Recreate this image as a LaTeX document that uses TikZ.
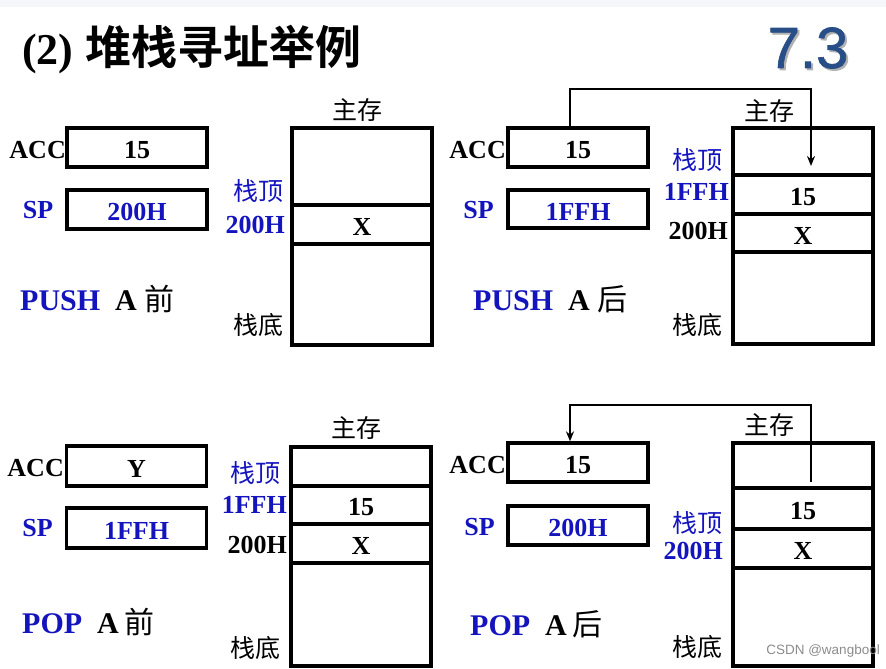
\documentclass[tikz,border=0pt]{standalone}
\usepackage{fontspec}
\setmainfont{Liberation Serif}
\newfontfamily\cjk{Noto Sans CJK SC}[BoldFont={Noto Sans CJK SC Bold}]
\newfontfamily\numsans{Liberation Sans}
\newfontfamily\secfont{Liberation Sans}[FakeBold=1.2]
\usetikzlibrary{arrows.meta}
\definecolor{lblue}{RGB}{20,20,190}
\definecolor{sectblue}{RGB}{40,78,135}
\definecolor{topgray}{RGB}{244,246,249}
\newcommand\lw[1]{\raisebox{-2.5pt}[\height][\depth]{#1}}
\begin{document}
\begin{tikzpicture}[x=1pt,y=-1pt,
  box/.style={draw,line width=3.3pt,rectangle,minimum width=140pt,inner sep=0pt,font=\fontsize{26}{26}\selectfont\bfseries},
  lab/.style={inner sep=0pt,font=\fontsize{26}{26}\selectfont\bfseries},
  bluelab/.style={lab,text=lblue},
  cjklab/.style={inner sep=0pt,font=\fontsize{25}{25}\selectfont\cjk},
  flow/.style={line width=2.6pt,-{Stealth[length=10pt,width=8pt]}},
  cmd/.style={inner sep=0pt,anchor=base west,font=\fontsize{30}{30}\selectfont\bfseries}
]
\path[use as bounding box] (0,0) rectangle (886,669);
\fill[topgray] (0,0) rectangle (886,7);

% title
\node[inner sep=0pt,anchor=base west,font=\fontsize{44}{44}\selectfont\bfseries] (title) at (22,65)
  {(2)\hspace{12pt}{\cjk\fontsize{46}{46}\selectfont 堆栈寻址举例}};
\node[inner sep=0pt,text=black!30,font=\fontsize{58}{58}\selectfont\secfont] (secsh) at (810,50) {7.3};
\node[inner sep=0pt,text=sectblue,font=\fontsize{58}{58}\selectfont\secfont] (sec) at (808,48) {7.3};

% ---------- Q1: PUSH A before ----------
\node[box,minimum height=39pt] (acc1) at (137,147.5) {\lw{15}};
\node[box,minimum height=39pt,text=lblue] (sp1) at (137,209.5) {\lw{200H}};
\node[lab,anchor=east] (acc1l) at (66,150) {ACC};
\node[bluelab] (sp1l) at (38,210.5) {SP};
\node[cmd] (cmd1) at (20,310) {{\color{lblue}PUSH}\hspace{15pt}A\hspace{8pt}{\cjk\mdseries 前}};
\node[cjklab] (main1) at (357,110) {主存};
\node[box,minimum height=77pt] (m1a) at (362,166.5) {};
\node[box,minimum height=39pt] (m1b) at (362,224.5) {\lw{X}};
\node[box,minimum height=101pt] (m1c) at (362,294.5) {};
\node[cjklab,anchor=east,text=lblue] (top1) at (284,191) {栈顶};
\node[bluelab,anchor=east] (a1) at (285,224.5) {200H};
\node[cjklab,anchor=east] (bot1) at (284,325) {栈底};

% ---------- Q2: PUSH A after ----------
\node[box,minimum height=39pt] (acc2) at (578,147.5) {\lw{15}};
\node[box,minimum height=38pt,text=lblue] (sp2) at (578,209) {\lw{1FFH}};
\node[lab,anchor=east] (acc2l) at (506,150) {ACC};
\node[bluelab] (sp2l) at (478.5,210) {SP};
\node[cmd] (cmd2) at (473,310) {{\color{lblue}PUSH}\hspace{15pt}A\hspace{8pt}{\cjk\mdseries 后}};
\node[cjklab] (main2) at (769,111) {主存};
\node[box,minimum height=47pt] (m2a) at (803,151.5) {};
\node[box,minimum height=39pt] (m2b) at (803,194.5) {\lw{15}};
\node[box,minimum height=38pt] (m2c) at (803,233) {\lw{X}};
\node[box,minimum height=92pt] (m2d) at (803,298) {};
\node[cjklab,anchor=east,text=lblue] (top2) at (723,160) {栈顶};
\node[bluelab,anchor=east] (a2a) at (729,192) {1FFH};
\node[lab,anchor=east] (a2b) at (728,231) {200H};
\node[cjklab,anchor=east] (bot2) at (723,325) {栈底};
\coordinate (q2c) at (811,89);
\coordinate (q2t) at (811,166);
\draw[flow] ([xshift=-8pt]acc2.north) |- (q2c) -- (q2t);

% ---------- Q3: POP A before ----------
\node[box,minimum height=40pt] (acc3) at (136.5,466) {\lw{Y}};
\node[box,minimum height=40pt,text=lblue] (sp3) at (136.5,528) {\lw{1FFH}};
\node[lab,anchor=east] (acc3l) at (64,468) {ACC};
\node[bluelab] (sp3l) at (37.5,528) {SP};
\node[cmd] (cmd3) at (22,633) {{\color{lblue}POP}\hspace{15pt}A\hspace{6pt}{\cjk\mdseries 前}};
\node[cjklab] (main3) at (356,428) {主存};
\node[box,minimum height=39pt] (m3a) at (361,466.5) {};
\node[box,minimum height=38pt] (m3b) at (361,505) {\lw{15}};
\node[box,minimum height=39pt] (m3c) at (361,543.5) {\lw{X}};
\node[box,minimum height=103pt] (m3d) at (361,614.5) {};
\node[cjklab,anchor=east,text=lblue] (top3) at (281,473) {栈顶};
\node[bluelab,anchor=east] (a3a) at (287,505) {1FFH};
\node[lab,anchor=east] (a3b) at (287,545) {200H};
\node[cjklab,anchor=east] (bot3) at (281,648) {栈底};

% ---------- Q4: POP A after ----------
\node[box,minimum height=39pt] (acc4) at (578,462.5) {\lw{15}};
\node[box,minimum height=39pt,text=lblue] (sp4) at (578,525.5) {\lw{200H}};
\node[lab,anchor=east] (acc4l) at (506,465) {ACC};
\node[bluelab] (sp4l) at (479.5,527) {SP};
\node[cmd] (cmd4) at (470,635) {{\color{lblue}POP}\hspace{15pt}A\hspace{6pt}{\cjk\mdseries 后}};
\node[cjklab] (main4) at (769,425) {主存};
\node[box,minimum height=45pt] (m4a) at (803,465.5) {};
\node[box,minimum height=41pt] (m4b) at (803,508.5) {\lw{15}};
\node[box,minimum height=39pt] (m4c) at (803,548.5) {\lw{X}};
\node[box,minimum height=98pt] (m4d) at (803,617) {};
\node[cjklab,anchor=east,text=lblue] (top4) at (723,523) {栈顶};
\node[bluelab,anchor=east] (a4) at (723,551) {200H};
\node[cjklab,anchor=east] (bot4) at (723,647) {栈底};
\coordinate (q4s) at (811,482);
\coordinate (q4c) at (570,405);
\draw[flow] (q4s) |- (q4c) -- ([xshift=-8pt]acc4.north);

% watermark
\node[inner sep=0pt,anchor=east,text=black!45,font=\fontsize{13.5}{13.5}\selectfont\numsans] (wm) at (880,651) {CSDN @wangbool};
\end{tikzpicture}
\end{document}
